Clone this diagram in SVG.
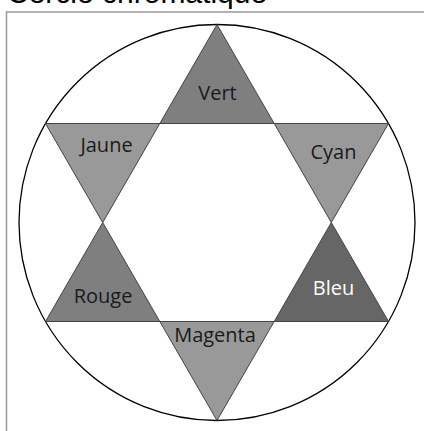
<svg xmlns="http://www.w3.org/2000/svg" width="424" height="431" viewBox="0 0 424 431">
<style>
.tri{stroke:#444;stroke-width:1;stroke-linejoin:miter}
.lbl{font-family:"Open Sans","DejaVu Sans",sans-serif;font-size:20px;text-anchor:middle;fill:#1a1a1a}
</style>
<rect width="424" height="431" fill="#fff"/>
<text x="7" y="3" font-family="Liberation Sans, Arial, sans-serif" font-size="30" fill="#000">Cercle chromatique</text>
<path d="M6.5 431 V12 H424" fill="none" stroke="#999" stroke-width="1.5"/>
<circle cx="217" cy="222.5" r="198" fill="none" stroke="#000" stroke-width="1.3"/>
<g id="vert"><polygon class="tri" fill="#7f7f7f" points="217,24.5 274.2,123.5 159.8,123.5"/><text class="lbl" x="217.5" y="100">Vert</text></g>
<g id="jaune"><polygon class="tri" fill="#999" points="45.5,123.5 159.8,123.5 102.7,222.5"/><text class="lbl" x="106.5" y="152">Jaune</text></g>
<g id="cyan"><polygon class="tri" fill="#999" points="274.2,123.5 388.5,123.5 331.3,222.5"/><text class="lbl" x="333.5" y="159">Cyan</text></g>
<g id="rouge"><polygon class="tri" fill="#7f7f7f" points="102.7,222.5 159.8,321.5 45.5,321.5"/><text class="lbl" x="103" y="303">Rouge</text></g>
<g id="bleu"><polygon class="tri" fill="#666" points="331.3,222.5 388.5,321.5 274.2,321.5"/><text class="lbl" x="333.5" y="295" style="fill:#fff">Bleu</text></g>
<g id="magenta"><polygon class="tri" fill="#999" points="159.8,321.5 274.2,321.5 217,420.5"/><text class="lbl" x="215" y="342">Magenta</text></g>
<g id="connectors"/>
</svg>
